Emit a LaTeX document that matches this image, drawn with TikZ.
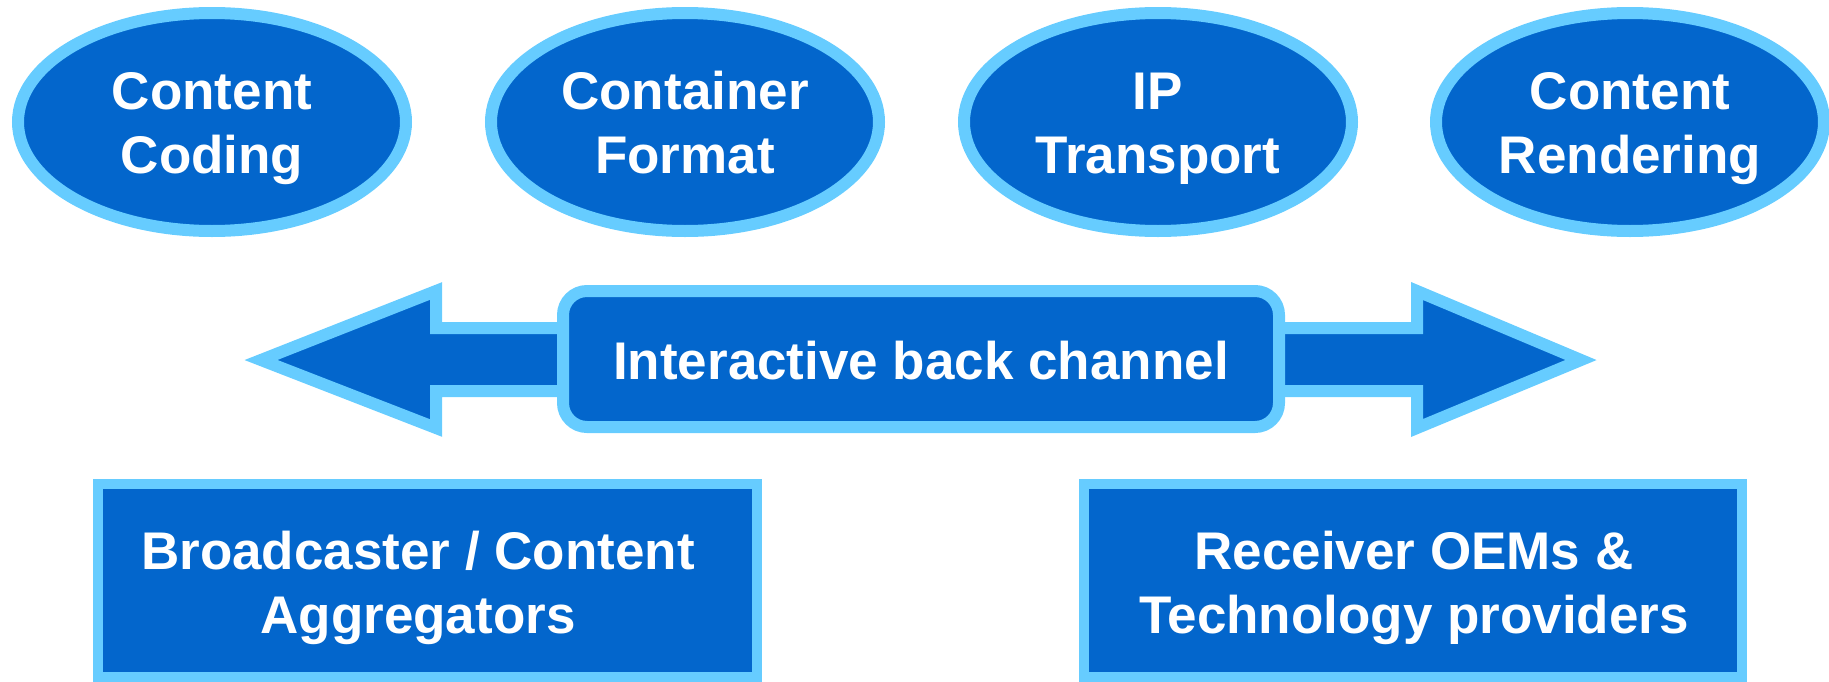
\documentclass[tikz,border=0pt]{standalone}
\usepackage{fontspec}
\setmainfont{Liberation Sans}
\usetikzlibrary{shapes.geometric}
\definecolor{fillblue}{RGB}{3,102,204}
\definecolor{edgeblue}{RGB}{102,204,255}
\tikzset{
  lbl/.style={font=\bfseries\fontsize{39.75}{48}\selectfont, text=white, align=center, inner sep=0pt},
  oval/.style={ellipse, draw=edgeblue, fill=fillblue, line width=9pt, minimum width=291pt, minimum height=163.5pt, inner sep=0pt},
  chanbox/.style={rectangle, rounded corners=18pt, draw=edgeblue, fill=fillblue, line width=9pt, minimum width=537pt, minimum height=102pt, inner sep=0pt},
  rolebox/.style={rectangle, draw=edgeblue, fill=fillblue, line width=7.5pt, inner sep=0pt},
  arrowshape/.style={draw=edgeblue, fill=fillblue, line width=9pt, line join=miter}
}
\begin{document}
\begin{tikzpicture}[x=0.75pt, y=-0.75pt]
\useasboundingbox (0,0) rectangle (1829,682);
% ovals
\node[oval] (coding) at (212,122) {};
\node[oval] (container) at (685,122) {};
\node[oval] (transport) at (1158,122) {};
\node[oval] (rendering) at (1630,122) {};
\node[lbl] (codingtxt) at (212,129) {\strut Content\\\strut Coding};
\node[lbl] (containertxt) at (685,129) {\strut Container\\\strut Format};
\node[lbl] (transporttxt) at (1158,129) {\strut IP\\\strut Transport};
\node[lbl] (renderingtxt) at (1630,129) {\strut Content\\\strut Rendering};
% double arrow
\draw[arrowshape] (261,360) -- (436,291) -- (436,328) -- (1417,328) -- (1417,291) -- (1581,360)
  -- (1417,428) -- (1417,391) -- (436,391) -- (436,428) -- cycle;
\node[chanbox] (channel) at (921,359) {};
\node[lbl] (channeltxt) at (921,367) {\strut Interactive back channel};
% bottom boxes
\draw[rolebox] (98,484) rectangle (757,677);
\node[lbl] (broadcaster) at (418,589) {\strut Broadcaster / Content\\\strut Aggregators};
\draw[rolebox] (1084,484) rectangle (1742,677);
\node[lbl] (receiver) at (1414,589) {\strut Receiver OEMs \&\\\strut Technology providers};
\end{tikzpicture}
\end{document}
